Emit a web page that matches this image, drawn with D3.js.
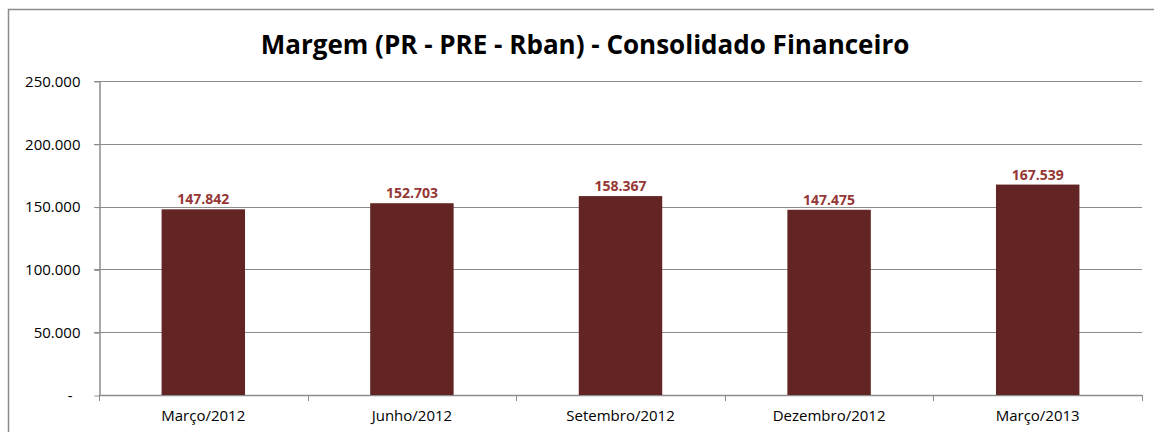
<!DOCTYPE html>
<html>
<head>
<meta charset="utf-8">
<script src="https://cdn.jsdelivr.net/npm/d3@7"></script>
<style>
  body { margin: 0; background: #fff; }
  svg { display: block; }
</style>
</head>
<body>
<script>
"use strict";

const WIDTH = 1154
const HEIGHT = 432

const categories = ["Março/2012", "Junho/2012", "Setembro/2012", "Dezembro/2012", "Março/2013"]
const values = [147842, 152703, 158367, 147475, 167539]
const y_ticks = [0, 50000, 100000, 150000, 200000, 250000]

const margin = { left: 99, right: 12, top: 81, bottom: 37 }
const fmt = v => v === 0 ? "-" : d3.format(",")(v).replace(/,/g, ".")

const svg = d3.select("body").append("svg")
    .attr("width", WIDTH)
    .attr("height", HEIGHT)

// chart frame
svg.append("rect")
    .attr("x", 8.5).attr("y", 9.5)
    .attr("width", WIDTH + 10).attr("height", HEIGHT + 10)
    .attr("fill", "none")
    .attr("stroke", "#8c8c8c")
    .attr("stroke-width", 1.5)

const x = d3.scaleBand()
    .domain(categories)
    .range([margin.left, WIDTH - margin.right])
    .paddingInner(0.6)
    .paddingOuter(0.3)

const y = d3.scaleLinear()
    .domain([0, 250000])
    .range([HEIGHT - margin.bottom, margin.top])

// gridlines
svg.append("g")
    .selectAll("line")
    .data(y_ticks.slice(1))
    .join("line")
    .attr("x1", margin.left - 5).attr("x2", WIDTH - margin.right)
    .attr("y1", d => Math.round(y(d)) + 0.5).attr("y2", d => Math.round(y(d)) + 0.5)
    .attr("stroke", "#8c8c8c")

// y axis
const yAxis = svg.append("g")
    .attr("transform", `translate(${margin.left + 0.5},0.5)`)
    .call(d3.axisLeft(y).tickValues(y_ticks).tickFormat(fmt).tickSize(5).tickSizeOuter(0))
yAxis.select(".domain").attr("stroke", "#8c8c8c").attr("stroke-width", 1.5)
yAxis.selectAll(".tick line").attr("stroke", "#8c8c8c")
yAxis.selectAll(".tick text")
    .attr("x", -19)
    .attr("font-family", "Open Sans, sans-serif")
    .attr("font-size", 15)
    .attr("fill", "#000")
yAxis.selectAll(".tick text").filter(d => d === 0).attr("x", -27)

// x axis, ticks at category boundaries
const boundaries = d3.range(categories.length + 1).map(i => margin.left + i * (WIDTH - margin.right - margin.left) / categories.length)
const xg = svg.append("g")
xg.append("line")
    .attr("x1", margin.left).attr("x2", WIDTH - margin.right)
    .attr("y1", y(0) + 0.5).attr("y2", y(0) + 0.5)
    .attr("stroke", "#8c8c8c").attr("stroke-width", 1.5)
xg.selectAll("line.tk")
    .data(boundaries)
    .join("line")
    .attr("class", "tk")
    .attr("x1", d => Math.round(d) + 0.5).attr("x2", d => Math.round(d) + 0.5)
    .attr("y1", y(0)).attr("y2", y(0) + 6)
    .attr("stroke", "#8c8c8c")
xg.selectAll("text")
    .data(categories)
    .join("text")
    .attr("x", d => x(d) + x.bandwidth() / 2)
    .attr("y", y(0) + 26)
    .attr("text-anchor", "middle")
    .attr("font-family", "Open Sans, sans-serif")
    .attr("font-size", 15)
    .attr("fill", "#000")
    .text(d => d)

// bars
svg.append("g")
    .selectAll("rect")
    .data(values)
    .join("rect")
    .attr("x", (d, i) => x(categories[i]))
    .attr("y", d => y(d))
    .attr("width", x.bandwidth())
    .attr("height", d => y(0) - y(d))
    .attr("fill", "#632523")

// value labels
svg.append("g")
    .selectAll("text")
    .data(values)
    .join("text")
    .attr("x", (d, i) => x(categories[i]) + x.bandwidth() / 2)
    .attr("y", d => y(d) - 5)
    .attr("text-anchor", "middle")
    .attr("font-family", "Open Sans, sans-serif")
    .attr("font-weight", "bold")
    .attr("font-size", 14)
    .attr("fill", "#953735")
    .text(d => fmt(d))

// title
const title = svg.append("text")
    .attr("x", 585)
    .attr("y", 54)
    .attr("text-anchor", "middle")
    .attr("font-family", "Open Sans, sans-serif")
    .attr("font-weight", "bold")
    .attr("font-size", 26)
    .attr("fill", "#000")
    .text("Margem (PR - PRE - Rban) - Consolidado Financeiro")
const tw = title.node().getComputedTextLength()
title.attr("font-size", 26 * 649 / tw)
</script>
</body>
</html>
